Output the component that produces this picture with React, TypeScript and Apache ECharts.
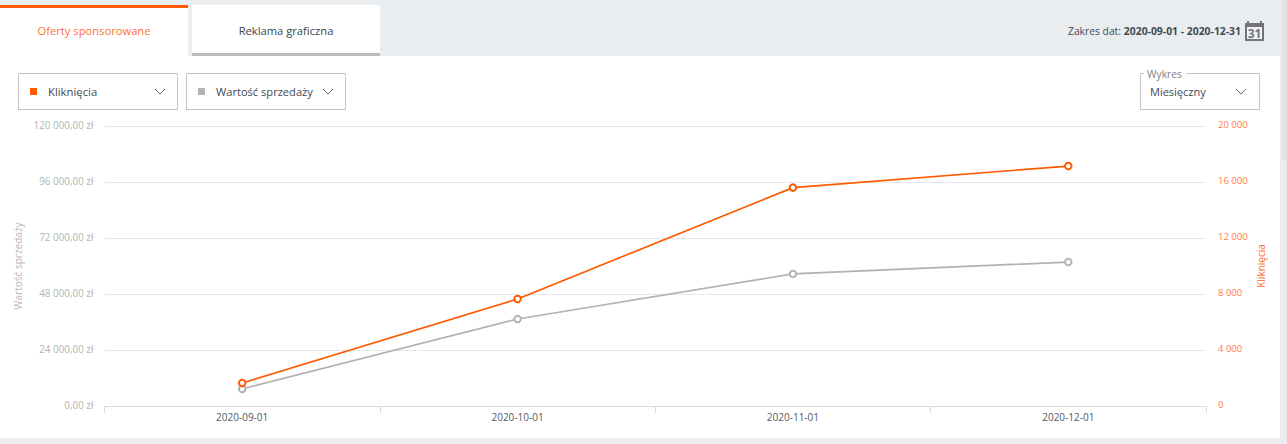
import React, { useEffect, useRef } from "react";
import * as echarts from "echarts";

const categories = ["2020-09-01", "2020-10-01", "2020-11-01", "2020-12-01"];
const clicks = [1640, 7640, 15600, 17140];
const salesValue = [7300, 37300, 56600, 61700];
const leftTicks = ["0,00 zł", "24 000,00 zł", "48 000,00 zł", "72 000,00 zł", "96 000,00 zł", "120 000,00 zł"];
const rightTicks = ["0", "4 000", "8 000", "12 000", "16 000", "20 000"];

const FONT = "'Open Sans', sans-serif";
const ORANGE = "#ff5a00";
const GREY = "#b2b2b2";
const BG = "#e9edf0";
const BORDER = "#c4c4c4";
const DARK = "#444a52";

const txt = (x: number, y: number, text: string, fill: string, extra: any = {}) => ({
  type: "text",
  x,
  y,
  silent: true,
  style: { text, fill, fontFamily: FONT, fontSize: 11.2, verticalAlign: "middle", align: "left", ...extra },
});
const rect = (x: number, y: number, width: number, height: number, fill: string, stroke?: string) => ({
  type: "rect",
  x,
  y,
  silent: true,
  shape: { x: 0, y: 0, width, height },
  style: stroke ? { fill, stroke, lineWidth: 1 } : { fill },
});
const chevron = (x: number, y: number) => ({
  type: "polyline",
  silent: true,
  shape: { points: [[x, y], [x + 5, y + 5], [x + 10, y]] },
  style: { stroke: "#6c6c6c", lineWidth: 1, fill: "none" },
});

const graphicElements = [
  rect(0, 0, 1287, 444, BG),
  rect(0, 56, 1280, 382, "#ffffff"),
  rect(1282, 0, 5, 160, "#e0e2e4"),
  // tabs
  rect(0, 5, 188, 51, "#ffffff"),
  rect(0, 5, 188, 3, ORANGE),
  rect(192, 5, 188, 51, "#ffffff"),
  rect(192, 53, 188, 3, "#bdbdbd"),
  txt(94, 30, "Oferty sponsorowane", "#ff6f3a", { align: "center" }),
  txt(286, 30, "Reklama graficzna", "#3e444c", { align: "center" }),
  // date range
  { type: "text", x: 1241, y: 30.5, silent: true, style: { text: "2020-09-01 - 2020-12-31", fill: DARK, fontFamily: FONT, fontSize: 10.4, fontWeight: 700, align: "right", verticalAlign: "middle" } },
  txt(1068, 30.5, "Zakres dat:", DARK, { fontSize: 10.3 }),
  rect(1245, 23, 19, 18, "#707478"),
  rect(1247, 21, 2, 3, "#707478"),
  rect(1260, 21, 2, 3, "#707478"),
  rect(1247, 27, 15, 12, "#f2f3f4"),
  { type: "text", x: 1254.5, y: 33.5, silent: true, style: { text: "31", fill: "#707478", fontFamily: FONT, fontSize: 12, fontWeight: 700, align: "center", verticalAlign: "middle" } },
  // dropdowns
  rect(18.5, 73.5, 159, 36, "#ffffff", BORDER),
  rect(30, 88, 7, 7, ORANGE),
  txt(48, 91, "Kliknięcia", DARK, { fontSize: 11.3 }),
  chevron(155, 89),
  rect(186.5, 73.5, 159, 36, "#ffffff", BORDER),
  rect(198, 88, 7, 7, GREY),
  txt(216, 91, "Wartość sprzedaży", DARK, { fontSize: 11.1 }),
  chevron(323, 89),
  rect(1140.5, 73.5, 119, 36, "#ffffff", BORDER),
  rect(1144, 70, 42, 7, "#ffffff"),
  txt(1147, 73.5, "Wykres", "#7d8288", { fontSize: 10.3 }),
  txt(1150, 91, "Miesięczny", DARK, { fontSize: 11 }),
  chevron(1236, 89),
];

const option: any = {
  animation: false,
  backgroundColor: "transparent",
  textStyle: { fontFamily: FONT },
  graphic: { elements: graphicElements.map((e: any) => ({ ...e, z: -1 })) },
  grid: { left: 104.5, right: 81, top: 126, bottom: 38, containLabel: false },
  xAxis: {
    type: "category",
    data: categories,
    boundaryGap: true,
    axisLine: { lineStyle: { color: "#d3dbe9", width: 1 } },
    axisTick: { show: true, length: 7, lineStyle: { color: "#d3dbe9" } },
    axisLabel: { color: "#555a60", fontSize: 10, margin: 6, fontFamily: FONT },
  },
  yAxis: [
    {
      type: "value",
      min: 0,
      max: 120000,
      interval: 24000,
      position: "left",
      name: "Wartość sprzedaży",
      nameLocation: "middle",
      nameGap: 82,
      nameMoveOverlap: false,
      nameTextStyle: { color: "#bdb4bd", fontSize: 10, fontFamily: FONT },
      axisLine: { show: false },
      axisTick: { show: false },
      axisLabel: {
        color: "#b3b5b8",
        fontSize: 9.9,
        margin: 11,
        verticalAlign: "bottom",
        lineHeight: 3,
        fontFamily: FONT,
        formatter: (_: number, i: number) => leftTicks[i],
      },
      splitLine: { show: true, lineStyle: { color: "#e6e8eb", width: 1 } },
    },
    {
      type: "value",
      min: 0,
      max: 20000,
      interval: 4000,
      position: "right",
      name: "Kliknięcia",
      nameLocation: "middle",
      nameGap: 50,
      nameMoveOverlap: false,
      nameTextStyle: { color: "#ff6a2a", fontSize: 10, fontFamily: FONT },
      axisLine: { show: false },
      axisTick: { show: false },
      axisLabel: {
        color: "#ff7a45",
        fontSize: 9.5,
        margin: 12,
        verticalAlign: "bottom",
        lineHeight: 3,
        fontFamily: FONT,
        formatter: (_: number, i: number) => rightTicks[i],
      },
      splitLine: { show: false },
    },
  ],
  series: [
    {
      name: "Wartość sprzedaży",
      type: "line",
      yAxisIndex: 0,
      data: salesValue,
      symbol: "emptyCircle",
      symbolSize: 6.5,
      showSymbol: true,
      lineStyle: { color: GREY, width: 1.7 },
      itemStyle: { color: GREY, borderColor: GREY, borderWidth: 3 },
    },
    {
      name: "Kliknięcia",
      type: "line",
      yAxisIndex: 1,
      data: clicks,
      symbol: "emptyCircle",
      symbolSize: 6.5,
      showSymbol: true,
      lineStyle: { color: ORANGE, width: 1.7 },
      itemStyle: { color: ORANGE, borderColor: ORANGE, borderWidth: 3 },
    },
  ],
};

export default function App() {
  const ref = useRef<HTMLDivElement>(null);
  useEffect(() => {
    document.body.style.margin = "0";
    document.body.style.overflow = "hidden";
    const chart = echarts.init(ref.current!, null, { renderer: "svg" });
    chart.setOption(option);
    return () => chart.dispose();
  }, []);
  return <div ref={ref} style={{ width: 1287, height: 444 }} />;
}
